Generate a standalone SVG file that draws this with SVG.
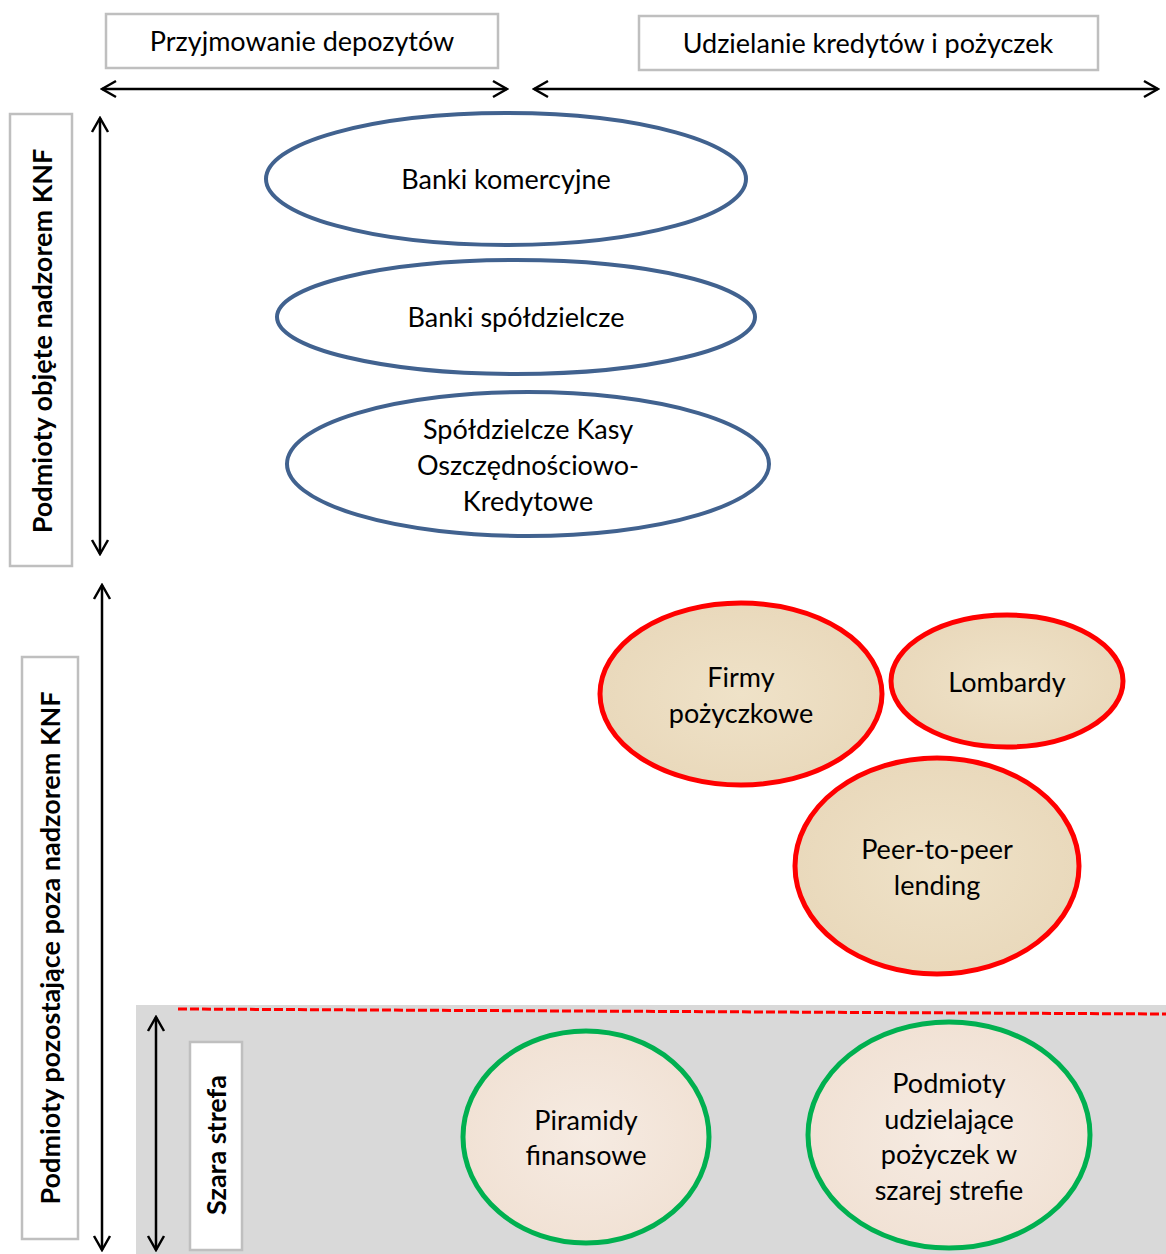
<svg xmlns="http://www.w3.org/2000/svg" width="1166" height="1254" viewBox="0 0 1166 1254">
<defs>
<marker id="chev" markerUnits="userSpaceOnUse" viewBox="-16 -10 18 20" refX="0" refY="0" markerWidth="18" markerHeight="20" orient="auto-start-reverse">
<path d="M-14,-8 L0,0 L-14,8" fill="none" stroke="#000" stroke-width="2.5"/>
</marker>
<radialGradient id="beige" cx="50%" cy="50%" r="60%">
<stop offset="0" stop-color="#efe2c8"/>
<stop offset="1" stop-color="#e8d7b9"/>
</radialGradient>
<radialGradient id="pink" cx="50%" cy="50%" r="60%">
<stop offset="0" stop-color="#f6ebe2"/>
<stop offset="1" stop-color="#f0e0d2"/>
</radialGradient>
</defs>
<style>
text{font-family:Lato,"Liberation Sans",sans-serif;font-size:27px;fill:#000;text-anchor:middle}
.b{font-weight:bold}
.box{fill:#fff;stroke:#bfbfbf;stroke-width:2.5}
.blue{fill:#fff;stroke:#41628f;stroke-width:4}
.red{fill:url(#beige);stroke:#ff0000;stroke-width:5}
.green{fill:url(#pink);stroke:#00b050;stroke-width:5}
.arr{stroke:#000;stroke-width:2.5;fill:none;marker-start:url(#chev);marker-end:url(#chev)}
</style>
<rect x="0" y="0" width="1166" height="1254" fill="#fff"/>
<rect id="grey-zone" x="136" y="1005" width="1030" height="249" fill="#d9d9d9"/>
<line x1="178" y1="1009" x2="1166" y2="1014" stroke="#ff0000" stroke-width="3" stroke-dasharray="9,3"/>

<g id="connectors">
<line class="arr" x1="102" y1="89" x2="507" y2="89"/>
<line class="arr" x1="534" y1="89" x2="1158" y2="89"/>
<line class="arr" x1="100" y1="118" x2="100" y2="554"/>
<line class="arr" x1="102" y1="585" x2="102" y2="1250"/>
<line class="arr" x1="156" y1="1017" x2="156" y2="1250"/>
</g>

<g id="hdr-deposits">
<rect class="box" x="106" y="14" width="392" height="54"/>
<text x="302" y="51">Przyjmowanie depozytów</text>
</g>
<g id="hdr-credits">
<rect class="box" x="639" y="16" width="459" height="54"/>
<text x="868" y="53">Udzielanie kredytów i pożyczek</text>
</g>

<g id="lbl-knf">
<rect class="box" x="10" y="114" width="62" height="452"/>
<text class="b" transform="translate(52,341) rotate(-90)">Podmioty objęte nadzorem KNF</text>
</g>
<g id="lbl-outside">
<rect class="box" x="22" y="657" width="56" height="582"/>
<text class="b" transform="translate(60,948) rotate(-90)">Podmioty pozostające poza nadzorem KNF</text>
</g>
<g id="lbl-grey">
<rect class="box" x="190" y="1042" width="52" height="208"/>
<text class="b" transform="translate(226,1145) rotate(-90)">Szara strefa</text>
</g>

<g id="banki-komercyjne">
<ellipse class="blue" cx="506" cy="179" rx="240" ry="66"/>
<text x="506" y="189">Banki komercyjne</text>
</g>
<g id="banki-spoldzielcze">
<ellipse class="blue" cx="516" cy="317" rx="239" ry="57"/>
<text x="516" y="327">Banki spółdzielcze</text>
</g>
<g id="skok">
<ellipse class="blue" cx="528" cy="464" rx="241" ry="72"/>
<text x="528" y="439">Spółdzielcze Kasy</text>
<text x="528" y="475">Oszczędnościowo-</text>
<text x="528" y="511">Kredytowe</text>
</g>

<g id="firmy">
<ellipse class="red" cx="741" cy="694" rx="141" ry="91"/>
<text x="741" y="687">Firmy</text>
<text x="741" y="723">pożyczkowe</text>
</g>
<g id="lombardy">
<ellipse class="red" cx="1007" cy="681" rx="116" ry="66"/>
<text x="1007" y="692">Lombardy</text>
</g>
<g id="p2p">
<ellipse class="red" cx="937" cy="866" rx="142" ry="108"/>
<text x="937" y="859">Peer-to-peer</text>
<text x="937" y="895">lending</text>
</g>

<g id="piramidy">
<ellipse class="green" cx="586" cy="1137" rx="123" ry="106"/>
<text x="586" y="1130">Piramidy</text>
<text x="586" y="1165">finansowe</text>
</g>
<g id="szara-pozyczki">
<ellipse class="green" cx="949" cy="1135" rx="141" ry="113"/>
<text x="949" y="1093">Podmioty</text>
<text x="949" y="1129">udzielające</text>
<text x="949" y="1164">pożyczek w</text>
<text x="949" y="1200">szarej strefie</text>
</g>
</svg>
